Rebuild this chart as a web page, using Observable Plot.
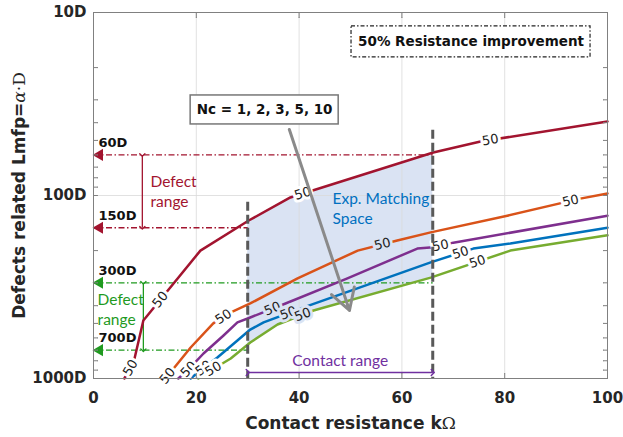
<!DOCTYPE html>
<html><head><meta charset="utf-8">
<script src="https://cdn.jsdelivr.net/npm/d3@7"></script>
<script src="https://cdn.jsdelivr.net/npm/@observablehq/plot@0.6"></script>
<style>body{margin:0;background:#fff} svg{display:block}</style>
</head><body><div id="chart"></div>
<script>
// ---- axes / ticks ----
const xTicks = [0, 20, 40, 60, 80, 100];
const yTicks = [10, 100, 1000];
const yTickLabels = ["10D", "100D", "1000D"];
const yMinorTicks = [20, 30, 40, 50, 60, 70, 80, 90, 200, 300, 400, 500, 600, 700, 800, 900];
const gridX = [20, 40, 60, 80];
const gridY = [100];
const xTitle = "Contact resistance kΩ";
const yTitle = "Defects related Lmfp=α·D";

// ---- series (contact resistance kΩ, defect length in D) ----
const seriesNames = ["Nc = 1", "Nc = 2", "Nc = 3", "Nc = 5", "Nc = 10"];
const seriesColors = ["#A2142F", "#D95319", "#7E2F8E", "#0072BD", "#77AC30"];
const nc1X = [6.0, 7.8, 9.7, 20.8, 30.2, 38.3, 66.1, 75.3, 100];
const nc1Y = [1000, 818, 482, 200, 137, 102.5, 58.2, 50.7, 39.4];
const nc2X = [14.0, 18.9, 23.3, 26.3, 30.5, 39.7, 51.4, 59.1, 65.6, 80.5, 94.7, 100];
const nc2Y = [1000, 677, 500, 441, 389, 284, 200, 176, 159, 129, 104, 97.5];
const nc3X = [16.5, 18.3, 21.4, 25.3, 28.0, 30.5, 36.4, 49.4, 63.0, 66.1, 70.0, 100];
const nc3Y = [1000, 904, 730, 582, 494, 464, 399, 284, 195, 192, 181, 129];
const nc5X = [18.9, 20.8, 24.1, 28.0, 30.5, 33.1, 40.9, 65.6, 73.9, 81.1, 100];
const nc5Y = [1000, 904, 768, 620, 540, 494, 409, 232, 195, 183, 150];
const nc10X = [20.4, 22.8, 26.7, 30.5, 35.8, 42.8, 65.6, 81.1, 100];
const nc10Y = [1000, 904, 778, 636, 507, 425, 281, 200, 165];
// contour label positions (x) per series
const labelX = [[7.2, 13.0, 40.7, 77.2], [14.4, 25.3, 56.2, 92.8], [18.5, 34.8, 67.5], [21.4, 37.9, 71.4], [23.3, 40.7, 74.7]];
const labelText = "50";

// ---- annotations ----
const contactRange = [30, 66];
const contactTop = [109, 44];
const contactArrowY = 927, contactTextY = 807;
const defectRed = [60, 150], defectGreen = [300, 700];
const defectLabels = ["60D", "150D", "300D", "700D"];
const defectArrowX = [9.5, 9.7];
const redTextPos = {x: 11.1, y: 94};
const greenTextPos = {x: 0.8, y: 414};
const expTextPos = {x: 46.5, y: 116};
const ncBox = {x1: 18.9, x2: 47.7, y1: 28.4, y2: 40.9, text: "Nc = 1, 2, 3, 5, 10"};
const titleBox = {x1: 50.2, x2: 96.7, y1: 11.9, y2: 17.6, text: "50% Resistance improvement"};
const ncArrow = {x1: 38.1, y1: 43.6, x2: 49.8, y2: 425};

const RED = "#A2142F", GREEN = "#1f9a1f", PURPLE = "#7030A0", BLUE = "#0070C0", SHADE = "#dae3f3";
const FRAME = "#808080";

const series = [[nc1X, nc1Y], [nc2X, nc2Y], [nc3X, nc3Y], [nc5X, nc5Y], [nc10X, nc10Y]]
  .map(([xs, ys], i) => ({name: seriesNames[i], color: seriesColors[i], xs, ys}));
const lineData = series.flatMap(s => s.xs.map((x, k) => ({name: s.name, x, y: s.ys[k]})));

function segIndex(xs, x) {
  for (let i = 0; i < xs.length - 1; i++) if (x >= xs[i] && x <= xs[i + 1]) return i;
  return xs.length - 2;
}
function interpLog(xs, ys, x) {
  const i = segIndex(xs, x);
  const t = (x - xs[i]) / (xs[i + 1] - xs[i]);
  return Math.exp(Math.log(ys[i]) * (1 - t) + Math.log(ys[i + 1]) * t);
}

const common = {
  width: 623, height: 437,
  marginLeft: 93, marginRight: 16, marginTop: 12, marginBottom: 59,
  x: {domain: [0, 100]},
  y: {type: "log", domain: [10, 1000], reverse: true},
  style: {fontFamily: "DejaVu Sans", background: "#fff", color: "#262626"}
};
const base = Plot.plot({...common, marks: [Plot.frame()]});
const sx = base.scale("x"), sy = base.scale("y");

// shading between top (Nc=1) and bottom (Nc=10) curves within contact range
const shadeXs = Array.from(new Set([contactRange[0], ...nc1X, ...nc10X, contactRange[1]]))
  .filter(x => x >= contactRange[0] && x <= contactRange[1]).sort((a, b) => a - b);
const shade = shadeXs.map(x => ({x, top: interpLog(nc1X, nc1Y, x), bottom: interpLog(nc10X, nc10Y, x)}));

// contour labels
const labels = [];
series.forEach((s, i) => labelX[i].forEach(x => {
  const j = segIndex(s.xs, x);
  const y = interpLog(s.xs, s.ys, x);
  const ddx = sx.apply(s.xs[j + 1]) - sx.apply(s.xs[j]);
  const ddy = sy.apply(s.ys[j + 1]) - sy.apply(s.ys[j]);
  const inside = x > contactRange[0] && x < contactRange[1] && i > 0;
  labels.push({x, y, angle: Math.atan2(ddy, ddx) * 180 / Math.PI, inside});
}));

const defLines = [
  {y: defectRed[0], x2: contactRange[1], c: RED}, {y: defectRed[1], x2: contactRange[0], c: RED},
  {y: defectGreen[0], x2: contactRange[1], c: GREEN}, {y: defectGreen[1], x2: contactRange[0], c: GREEN}
];
const defLabelData = defLines.map((d, i) => ({y: d.y, label: defectLabels[i]}));

const tickStyle = {stroke: FRAME, r: 0, anchor: "start", strokeWidth: 1};

const svg = Plot.plot({
  ...common,
  marks: [
    Plot.areaY(shade, {x: "x", y1: "bottom", y2: "top", fill: SHADE}),
    Plot.ruleX(gridX, {stroke: "#d9d9d9", strokeOpacity: 0.8}),
    Plot.ruleY(gridY, {stroke: "#d9d9d9", strokeOpacity: 0.8}),
    // defect range dash-dot lines
    Plot.link(defLines, {x1: 0, x2: "x2", y1: "y", y2: "y", stroke: "c", strokeWidth: 1.3, strokeDasharray: "6,2.5,1.5,2.5"}),
    Plot.dot(defLines, {x: 0, y: "y", dx: 6, symbol: "triangle", rotate: -90, r: 4.5, fill: "c", stroke: "none"}),
    Plot.link([{y1: defectRed[0], y2: defectRed[1]}], {x: defectArrowX[0], y1: "y1", y2: "y2", stroke: RED, strokeWidth: 1.3, markerStart: "arrow", markerEnd: "arrow"}),
    Plot.link([{y1: defectGreen[0], y2: defectGreen[1]}], {x: defectArrowX[1], y1: "y1", y2: "y2", stroke: GREEN, strokeWidth: 1.3, markerStart: "arrow", markerEnd: "arrow"}),
    Plot.text(defLabelData, {x: 0, y: "y", text: "label", dx: 5, dy: -12, textAnchor: "start", fontSize: 13, fontWeight: "bold", fill: "#111"}),
    Plot.text(["Defect\nrange"], {x: redTextPos.x, y: redTextPos.y, textAnchor: "start", lineHeight: 1.3, fontFamily: "Lato", fontSize: 15.5, fill: RED}),
    Plot.text(["Defect\nrange"], {x: greenTextPos.x, y: greenTextPos.y, textAnchor: "start", lineHeight: 1.3, fontFamily: "Lato", fontSize: 15.5, fill: GREEN}),
    // curves
    Plot.line(lineData, {x: "x", y: "y", z: "name", stroke: "name", strokeWidth: 2.5}),
    Plot.text(labels.filter(d => !d.inside), {x: "x", y: "y", rotate: "angle", text: () => labelText, fontSize: 13, fill: "#222", stroke: "white", strokeWidth: 6, paintOrder: "stroke"}),
    Plot.text(labels.filter(d => d.inside), {x: "x", y: "y", rotate: "angle", text: () => labelText, fontSize: 13, fill: "#222", stroke: SHADE, strokeWidth: 6, paintOrder: "stroke"}),
    // contact range dashed verticals
    Plot.ruleX(contactRange.map((x, i) => ({x, top: contactTop[i]})), {x: "x", y1: "top", y2: 1000, stroke: "#595959", strokeWidth: 3, strokeDasharray: "9,4"}),
    Plot.link([{}], {x1: contactRange[0], x2: contactRange[1], y: contactArrowY, stroke: PURPLE, strokeWidth: 1.5, markerStart: "arrow", markerEnd: "arrow"}),
    Plot.text(["Contact range"], {x: (contactRange[0] + contactRange[1]) / 2, y: contactTextY, fontFamily: "Lato", fontSize: 15.5, fill: PURPLE}),
    Plot.text(["Exp. Matching\nSpace"], {x: expTextPos.x, y: expTextPos.y, textAnchor: "start", lineHeight: 1.3, fontFamily: "Lato", fontSize: 15.5, fill: BLUE}),
    // Nc arrow and boxes
    Plot.arrow([ncArrow], {x1: "x1", y1: "y1", x2: "x2", y2: "y2", stroke: "#8a8a8a", strokeWidth: 3, headLength: 12}),
    Plot.rect([ncBox], {x1: "x1", x2: "x2", y1: "y1", y2: "y2", fill: "white", stroke: "#777", strokeWidth: 1.5}),
    Plot.text([ncBox], {x: d => (d.x1 + d.x2) / 2, y: d => Math.sqrt(d.y1 * d.y2), text: "text", fontSize: 13.5, fontWeight: "bold", fill: "#111"}),
    Plot.rect([titleBox], {x1: "x1", x2: "x2", y1: "y1", y2: "y2", fill: "white", stroke: "#222", strokeWidth: 1.2, strokeDasharray: "4,2,1.5,2"}),
    Plot.text([titleBox], {x: d => (d.x1 + d.x2) / 2, y: d => Math.sqrt(d.y1 * d.y2), text: "text", fontSize: 13.5, fontWeight: "bold", fill: "#111"}),
    // frame, ticks, axes
    Plot.frame({stroke: FRAME}),
    Plot.vector(gridX, {x: d => d, frameAnchor: "bottom", rotate: 0, length: 5, ...tickStyle}),
    Plot.vector(gridX, {x: d => d, frameAnchor: "top", rotate: 180, length: 5, ...tickStyle}),
    Plot.vector(yMinorTicks.concat(gridY), {y: d => d, frameAnchor: "left", rotate: 90, length: 4, ...tickStyle}),
    Plot.vector(yMinorTicks.concat(gridY), {y: d => d, frameAnchor: "right", rotate: -90, length: 4, ...tickStyle}),
    Plot.axisX(xTicks, {tickSize: 0, tickPadding: 14, fontSize: 15, fontWeight: "bold", label: null, fill: "#262626"}),
    Plot.axisY(yTicks, {tickSize: 0, tickPadding: 7, tickFormat: d => yTickLabels[yTicks.indexOf(d)], fontSize: 15, fontWeight: "bold", label: null, fill: "#262626"}),
    Plot.text([xTitle], {frameAnchor: "bottom", dy: 45, textAnchor: "middle", lineAnchor: "middle", fontSize: 17, fontWeight: "bold", fill: "#262626"}),
    Plot.text([yTitle], {frameAnchor: "left", dx: -74, rotate: -90, textAnchor: "middle", lineAnchor: "middle", fontSize: 17, fontWeight: "bold", fill: "#262626"})
  ],
  color: {domain: seriesNames, range: seriesColors}
});

// mixed-font math glyphs in axis titles
d3.select(svg).selectAll("text").each(function () {
  const t = this.textContent;
  if (t === yTitle) {
    const el = d3.select(this); el.text(null);
    el.append("tspan").text("Defects related Lmfp=");
    el.append("tspan").attr("font-family", "DejaVu Serif").attr("font-style", "italic").attr("font-weight", "normal").text("α");
    el.append("tspan").attr("font-family", "DejaVu Serif").attr("font-weight", "normal").text("·D");
  } else if (t === xTitle) {
    const el = d3.select(this); el.text(null);
    el.append("tspan").text("Contact resistance k");
    el.append("tspan").attr("font-family", "DejaVu Serif").attr("font-weight", "normal").text("Ω");
  }
});
document.getElementById("chart").appendChild(svg);
</script>
</body></html>
